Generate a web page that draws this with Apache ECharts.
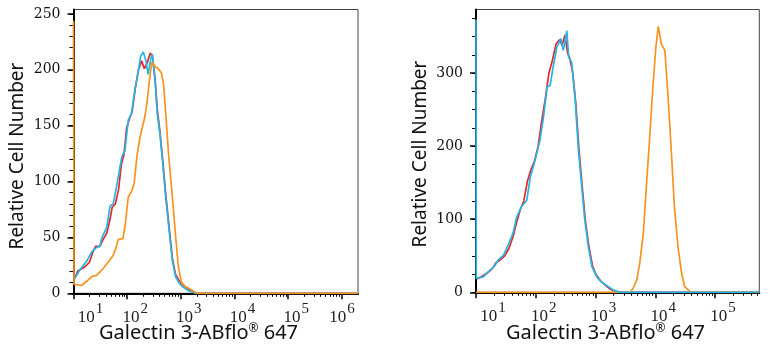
<!DOCTYPE html>
<html><head><meta charset="utf-8">
<script src="https://cdn.jsdelivr.net/npm/echarts@6/dist/echarts.min.js"></script>
<style>html,body{margin:0;padding:0;background:#fff}#c{width:771px;height:350px}</style>
</head><body><div id="c"></div>
<script>
// x values are log10 of fluorescence intensity (decades)
const decades = [1, 2, 3, 4, 5, 6];
const minorMultipliers = [2, 3, 4, 5, 6, 7, 8, 9];
const leftYTicks = [0, 50, 100, 150, 200, 250];
const rightYTicks = [0, 100, 200, 300];

// Left panel
const leftRedX = [1.02,1.08,1.15,1.22,1.30,1.36,1.41,1.49,1.55,1.62,1.68,1.72,1.78,1.84,1.89,1.94,1.99,2.04,2.09,2.15,2.21,2.27,2.32,2.37,2.43,2.47,2.52,2.56,2.61,2.67,2.72,2.78,2.84,2.90,2.97,3.05,3.15,3.28,6.30];
const leftRedY = [13,20,22,24,28,37,42,42,48,54,66,77,80,93,115,124,148,156,162,183,200,208,201,206,215,212,192,165,145,115,88,60,32,17,11,7,3,0,0];
const leftCyanX = [1.02,1.12,1.25,1.34,1.43,1.49,1.53,1.62,1.68,1.74,1.80,1.90,1.96,2.02,2.08,2.15,2.21,2.25,2.30,2.35,2.39,2.44,2.47,2.52,2.56,2.61,2.67,2.72,2.78,2.84,2.90,2.97,3.03,3.15,3.27,6.30];
const leftCyanY = [13,21,29,37,41,42,50,59,78,80,95,122,128,155,161,184,199,212,216,208,196,210,214,190,161,143,112,85,57,30,15,9,6,2,0,0];
const leftOrangeX = [1.00,1.01,1.15,1.25,1.34,1.43,1.55,1.68,1.74,1.80,1.83,1.92,1.96,2.02,2.08,2.13,2.18,2.24,2.33,2.37,2.42,2.46,2.52,2.58,2.64,2.68,2.72,2.77,2.83,2.89,2.95,3.01,3.08,3.16,3.23,3.30,6.30];
const leftOrangeY = [244,8,7,11,15,16,22,30,34,42,48,49,60,86,91,98,122,140,158,171,193,207,203,201,197,186,160,125,93,58,25,10,6,4,2,0,0];

// Right panel
const rightRedX = [1.02,1.10,1.20,1.28,1.33,1.40,1.48,1.55,1.62,1.68,1.74,1.80,1.86,1.92,1.98,2.04,2.10,2.16,2.22,2.28,2.34,2.40,2.44,2.49,2.53,2.57,2.62,2.67,2.72,2.78,2.83,2.89,2.95,3.01,3.08,3.16,3.25,3.36,3.45,5.74];
const rightRedY = [18,22,27,33,40,44,50,60,76,96,113,125,152,168,180,200,235,265,300,318,340,346,338,352,328,320,300,258,198,142,98,62,36,24,16,10,4,1,0,0];
const rightCyanX = [1.00,1.005,1.12,1.23,1.32,1.37,1.46,1.54,1.62,1.68,1.76,1.85,1.91,1.99,2.07,2.13,2.19,2.24,2.29,2.35,2.42,2.46,2.52,2.55,2.60,2.66,2.71,2.77,2.82,2.88,2.94,3.02,3.10,3.19,3.30,3.41,5.74];
const rightCyanY = [373,19,21,30,37,44,51,65,81,103,117,126,158,181,208,240,281,283,308,335,347,331,358,322,315,263,199,144,99,62,35,21,14,9,3,0,0];
const rightOrangeX = [1.00,3.58,3.63,3.69,3.74,3.80,3.85,3.91,3.96,4.01,4.05,4.10,4.16,4.21,4.27,4.32,4.38,4.44,4.49,4.58,4.65,5.74];
const rightOrangeY = [0,0,5.5,17,40,81,144,217,281,336,364,340,331,272,190,117,62,26,8,1,0,0];

const RED = '#e8262b', CYAN = '#23b5e8', ORANGE = '#f7931e';
const pairs = (xs, ys) => xs.map((x, i) => [x, ys[i]]);
const minorVals = (max) => {
  const out = [];
  decades.forEach(d => minorMultipliers.forEach(m => { const v = d + Math.log10(m); if (v <= max) out.push(v); }));
  return out;
};
const minorY = (max, step) => { const o = []; for (let v = 0; v <= max; v += step) o.push(v); return o; };

const grids = [
  {left: 73.5, right: 413, top: 9.5, bottom: 56.7, xmax: 6.30, ymax: 254, yTicks: leftYTicks, yMinorStep: 10},
  {left: 476, right: 11.7, top: 9.5, bottom: 57.7, xmax: 5.74, ymax: 387, yTicks: rightYTicks, yMinorStep: 25}
];

const serif = 'DejaVu Serif';
const baseStyle = {fontFamily: 'Liberation Serif', fontSize: 17, color: '#222', lineHeight: 25, verticalAlign: 'bottom'};
const xAxes = [], yAxes = [];
grids.forEach((g, gi) => {
  const decs = decades.filter(d => d <= g.xmax);
  xAxes.push({
    type: 'value', gridIndex: gi, min: 1, max: g.xmax, position: 'bottom',
    axisLine: {show: true, lineStyle: {color: '#000', width: 2}},
    axisTick: {show: true, customValues: decs, length: 6, lineStyle: {color: '#000', width: 1.5}},
    splitLine: {show: false},
    axisLabel: {
      show: true, customValues: decs, margin: 8,
      formatter: v => (v === 1 ? '{f|10}' : (v === 6 ? '{e|10}' : '{b|10}')) + '{s|' + v + '}',
      rich: {
        b: Object.assign({}, baseStyle, {padding: [0, 1, 0, 16]}),
        f: Object.assign({}, baseStyle, {padding: [0, 1, 0, 34]}),
        e: Object.assign({}, baseStyle, {padding: [0, 1, 0, 0]}),
        s: {fontFamily: 'Liberation Serif', fontSize: 15, color: '#222', lineHeight: 15, verticalAlign: 'top'}
      }
    }
  });
  xAxes.push({
    type: 'value', gridIndex: gi, min: 1, max: g.xmax, position: 'bottom',
    axisLine: {show: false},
    axisTick: {show: true, customValues: minorVals(g.xmax), length: 3.5, lineStyle: {color: '#000', width: 1}},
    splitLine: {show: false}, axisLabel: {show: false}
  });
  yAxes.push({
    type: 'value', gridIndex: gi, min: 0, max: g.ymax, position: 'left',
    axisLine: {show: true, lineStyle: {color: '#000', width: 2}},
    axisTick: {show: true, customValues: g.yTicks, length: 6, lineStyle: {color: '#000', width: 1.5}},
    splitLine: {show: false},
    axisLabel: {show: true, customValues: g.yTicks, margin: 13, fontFamily: serif, fontSize: 14, color: '#111'}
  });
  yAxes.push({
    type: 'value', gridIndex: gi, min: 0, max: g.ymax, position: 'left',
    axisLine: {show: false},
    axisTick: {show: true, customValues: minorY(g.ymax, g.yMinorStep), length: 4, lineStyle: {color: '#000', width: 1}},
    splitLine: {show: false}, axisLabel: {show: false}
  });
});

const line = (data, color, gi) => ({
  type: 'line', xAxisIndex: gi * 2, yAxisIndex: gi * 2, data, showSymbol: false, symbol: 'none',
  lineStyle: {color, width: 1.7}, itemStyle: {color}, smooth: false, animation: false
});

const titleFont = 'Noto Sans';
const option = {
  backgroundColor: '#fff',
  animation: false,
  grid: grids.map(g => ({left: g.left, right: g.right, top: g.top, bottom: g.bottom, show: true, borderColor: '#444', borderWidth: 1, backgroundColor: 'transparent'})),
  xAxis: xAxes,
  yAxis: yAxes,
  series: [
    line(pairs(leftRedX, leftRedY), RED, 0),
    line(pairs(leftCyanX, leftCyanY), CYAN, 0),
    line(pairs(leftOrangeX, leftOrangeY), ORANGE, 0),
    line(pairs(rightRedX, rightRedY), RED, 1),
    line(pairs(rightOrangeX, rightOrangeY), ORANGE, 1),
    line(pairs(rightCyanX, rightCyanY), CYAN, 1)
  ],
  graphic: [
    {type: 'text', x: 17.5, y: 156, rotation: Math.PI / 2, style: {text: 'Relative Cell Number', fontFamily: titleFont, fontSize: 19, fill: '#111', align: 'center', verticalAlign: 'middle'}},
    {type: 'text', x: 420.5, y: 154, rotation: Math.PI / 2, style: {text: 'Relative Cell Number', fontFamily: titleFont, fontSize: 19, fill: '#111', align: 'center', verticalAlign: 'middle'}},
    {type: 'text', x: 198.5, y: 333, style: {text: 'Galectin 3-ABflo{r|®} 647', fontFamily: titleFont, fontSize: 20, fill: '#111', align: 'center', verticalAlign: 'middle', rich: {r: {fontFamily: titleFont, fontSize: 12, fill: '#111', verticalAlign: 'top'}}}},
    {type: 'text', x: 605.5, y: 333, style: {text: 'Galectin 3-ABflo{r|®} 647', fontFamily: titleFont, fontSize: 20, fill: '#111', align: 'center', verticalAlign: 'middle', rich: {r: {fontFamily: titleFont, fontSize: 12, fill: '#111', verticalAlign: 'top'}}}}
  ]
};
const chart = echarts.init(document.getElementById('c'), null, {renderer: 'canvas'});
chart.setOption(option);
</script>
</body></html>
